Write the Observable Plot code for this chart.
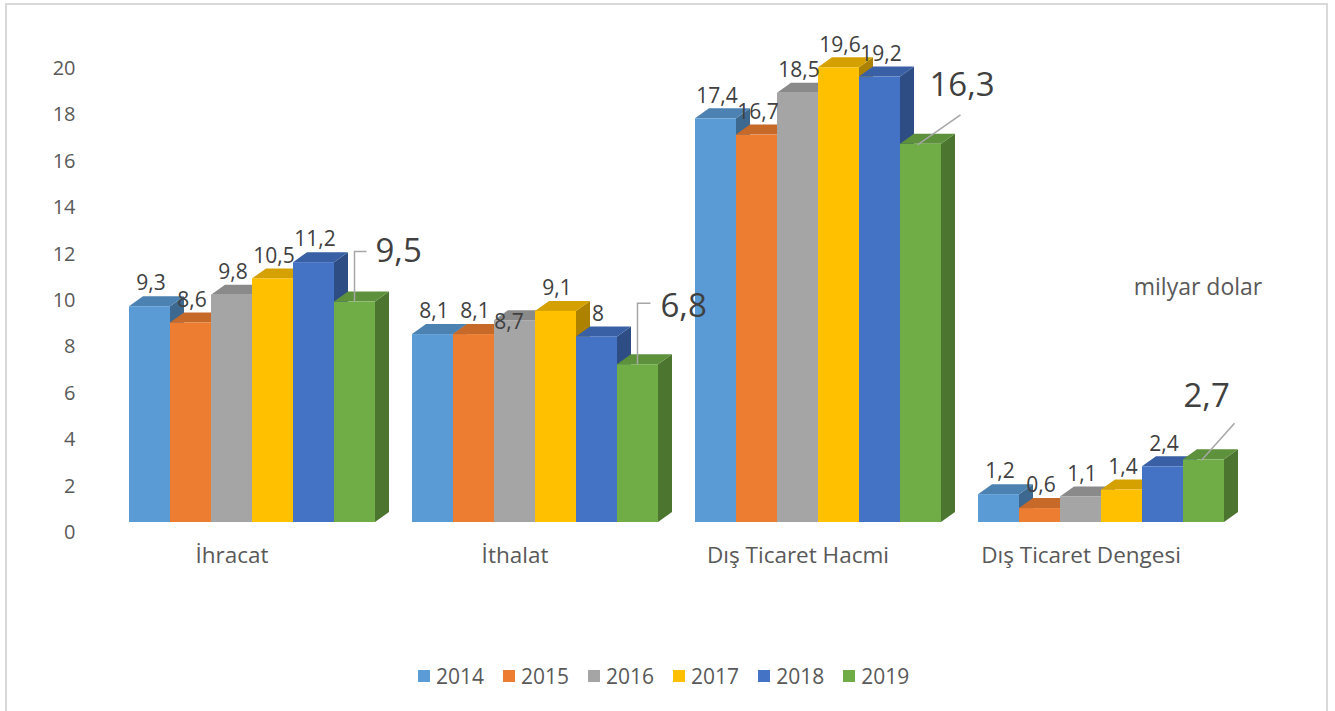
<!DOCTYPE html>
<html>
<head>
<meta charset="utf-8">
<script src="https://cdn.jsdelivr.net/npm/d3@7"></script>
<script src="https://cdn.jsdelivr.net/npm/@observablehq/plot@0.6"></script>
<style>
  body { margin: 0; background: #fff; }
  #wrap { position: relative; width: 1335px; height: 711px; overflow: hidden; font-family: "Open Sans", sans-serif; }
  #frame { position: absolute; left: 5px; top: 3px; width: 1323px; height: 720px; border: 2px solid #d9d9d9; box-sizing: border-box; }
  #chart { position: absolute; left: 0; top: 0; }
  #legend { position: absolute; top: 662px; left: 418px; display: flex; align-items: center; font-size: 21px; color: #595959; }
  .item { display: flex; align-items: center; margin-right: 19px; }
  .sw { width: 12px; height: 12px; margin-right: 6px; }
</style>
</head>
<body>
<div id="wrap">
  <div id="frame"></div>
  <div id="chart"></div>
  <div id="legend"></div>
</div>
<script>
// ---- data ----
const categories = ["İhracat", "İthalat", "Dış Ticaret Hacmi", "Dış Ticaret Dengesi"];
const years = ["2014", "2015", "2016", "2017", "2018", "2019"];
const v2014 = [9.3, 8.1, 17.4, 1.2];
const v2015 = [8.6, 8.1, 16.7, 0.6];
const v2016 = [9.8, 8.7, 18.5, 1.1];
const v2017 = [10.5, 9.1, 19.6, 1.4];
const v2018 = [11.2, 8, 19.2, 2.4];
const v2019 = [9.5, 6.8, 16.3, 2.7];
const yTicks = [0, 2, 4, 6, 8, 10, 12, 14, 16, 18, 20];
const unitLabel = "milyar dolar";
const colors = ["#5B9BD5", "#ED7D31", "#A5A5A5", "#FFC000", "#4472C4", "#70AD47"];

const series = [v2014, v2015, v2016, v2017, v2018, v2019];
const rows = [];
categories.forEach((c, i) => years.forEach((y, j) => rows.push({cat: c, year: y, value: series[j][i]})));
const fmt = v => String(v).replace(".", ",");

// ---- styling / layout ----
const DX = 14, DY = -10;
// callout layout for the highlighted 2019 labels (pixel offsets from the bar's top-front centre)
const callouts = {
  "İhracat":             {tx: 21, ty: -51, path: [[0, 0], [0, -50], [12, -50]]},
  "İthalat":             {tx: 23, ty: -59, path: [[0, 0], [0, -61], [13, -61]]},
  "Dış Ticaret Hacmi":   {tx: 9,  ty: -59, path: [[-3, 1], [40, -29]]},
  "Dış Ticaret Dengesi": {tx: -20, ty: -64, path: [[-2, 1], [31, -36]]}
};
// Excel moved this one label to avoid a collision
const labelShift = {"İthalat|2016": [-7, 25]};

function draw3d(index, scales, values) {
  const bw = scales.x.bandwidth();
  const g = d3.create("svg:g");
  const order = Array.from(index).sort((a, b) => values.x[a] - values.x[b]);
  for (const i of order) {
    const x0 = values.x[i], x1 = x0 + bw;
    const yt = Math.min(values.y1[i], values.y2[i]);
    const yb = Math.max(values.y1[i], values.y2[i]);
    const c = d3.color(values.fill[i]);
    g.append("polygon")
      .attr("points", [[x1, yb], [x1 + DX, yb + DY], [x1 + DX, yt + DY], [x1, yt]].join(" "))
      .attr("fill", c.darker(1.1));
    g.append("polygon")
      .attr("points", [[x0, yt], [x0 + DX, yt + DY], [x1 + DX, yt + DY], [x1, yt]].join(" "))
      .attr("fill", c.darker(0.5));
    g.append("rect")
      .attr("x", x0).attr("y", yt).attr("width", bw).attr("height", yb - yt)
      .attr("fill", c);
  }
  return g.node();
}

function drawCallouts(index, scales, values) {
  const bw = scales.x.bandwidth();
  const g = d3.create("svg:g");
  for (const i of index) {
    const d = rows2019[i];
    const cfg = callouts[d.cat];
    const cx = values.x[i] + bw / 2;
    const cy = values.y[i];
    g.append("polyline")
      .attr("points", cfg.path.map(([a, b]) => [cx + a, cy + b]).join(" "))
      .attr("fill", "none").attr("stroke", "#a6a6a6").attr("stroke-width", 1.5);
    g.append("text")
      .attr("x", cx + cfg.tx).attr("y", cy + cfg.ty)
      .attr("dy", "0.35em")
      .attr("text-anchor", "start")
      .attr("font-size", 33).attr("fill", "#404040")
      .text(fmt(d.value));
  }
  return g.node();
}

const rows2019 = rows.filter(d => d.year === "2019");
const plain = rows.filter(d => d.year !== "2019" && !labelShift[d.cat + "|" + d.year]);
const shifted = rows.filter(d => labelShift[d.cat + "|" + d.year]);

const plot = Plot.plot({
  width: 1335,
  height: 620,
  marginLeft: 126,
  marginRight: 109,
  marginTop: 58,
  marginBottom: 98,
  fx: {domain: categories, paddingInner: 32 / 283, paddingOuter: 0, axis: null, label: null},
  x: {domain: years, padding: 0, axis: null, label: null},
  y: {domain: [0, 20], axis: null, label: null},
  color: {domain: years, range: colors},
  style: {fontFamily: "'Open Sans', sans-serif", fontSize: "20px", color: "#595959", overflow: "visible", background: "transparent"},
  marks: [
    Plot.text(yTicks, {fx: () => categories[0], y: d => d, text: d => String(d), frameAnchor: "left", textAnchor: "end", dx: -51, dy: 10, fill: "#595959", fontSize: 20}),
    Plot.text(categories, {fx: d => d, text: d => d, frameAnchor: "bottom", dx: -20, dy: 40, fill: "#595959", fontSize: 22.5}),
    Plot.text([unitLabel], {fx: () => categories[3], y: () => 10, text: d => d, dx: 97, dy: -3, fill: "#595959", fontSize: 23}),
    Plot.barY(rows, {fx: "cat", x: "year", y: "value", fill: "year", render: draw3d}),
    Plot.text(plain, {fx: "cat", x: "year", y: "value", text: d => fmt(d.value), dy: -23, dx: 1, fill: "#404040", fontSize: 21}),
    Plot.text(shifted, {fx: "cat", x: "year", y: "value", text: d => fmt(d.value), dx: labelShift["İthalat|2016"][0] + 1, dy: labelShift["İthalat|2016"][1] - 23, fill: "#404040", fontSize: 21}),
    Plot.dot(rows2019, {fx: "cat", x: "year", y: "value", render: drawCallouts})
  ]
});
document.getElementById("chart").appendChild(plot);

// legend
const legend = d3.select("#legend");
years.forEach((y, j) => {
  const it = legend.append("div").attr("class", "item");
  it.append("div").attr("class", "sw").style("background", colors[j]);
  it.append("span").text(y);
});
</script>
</body>
</html>
